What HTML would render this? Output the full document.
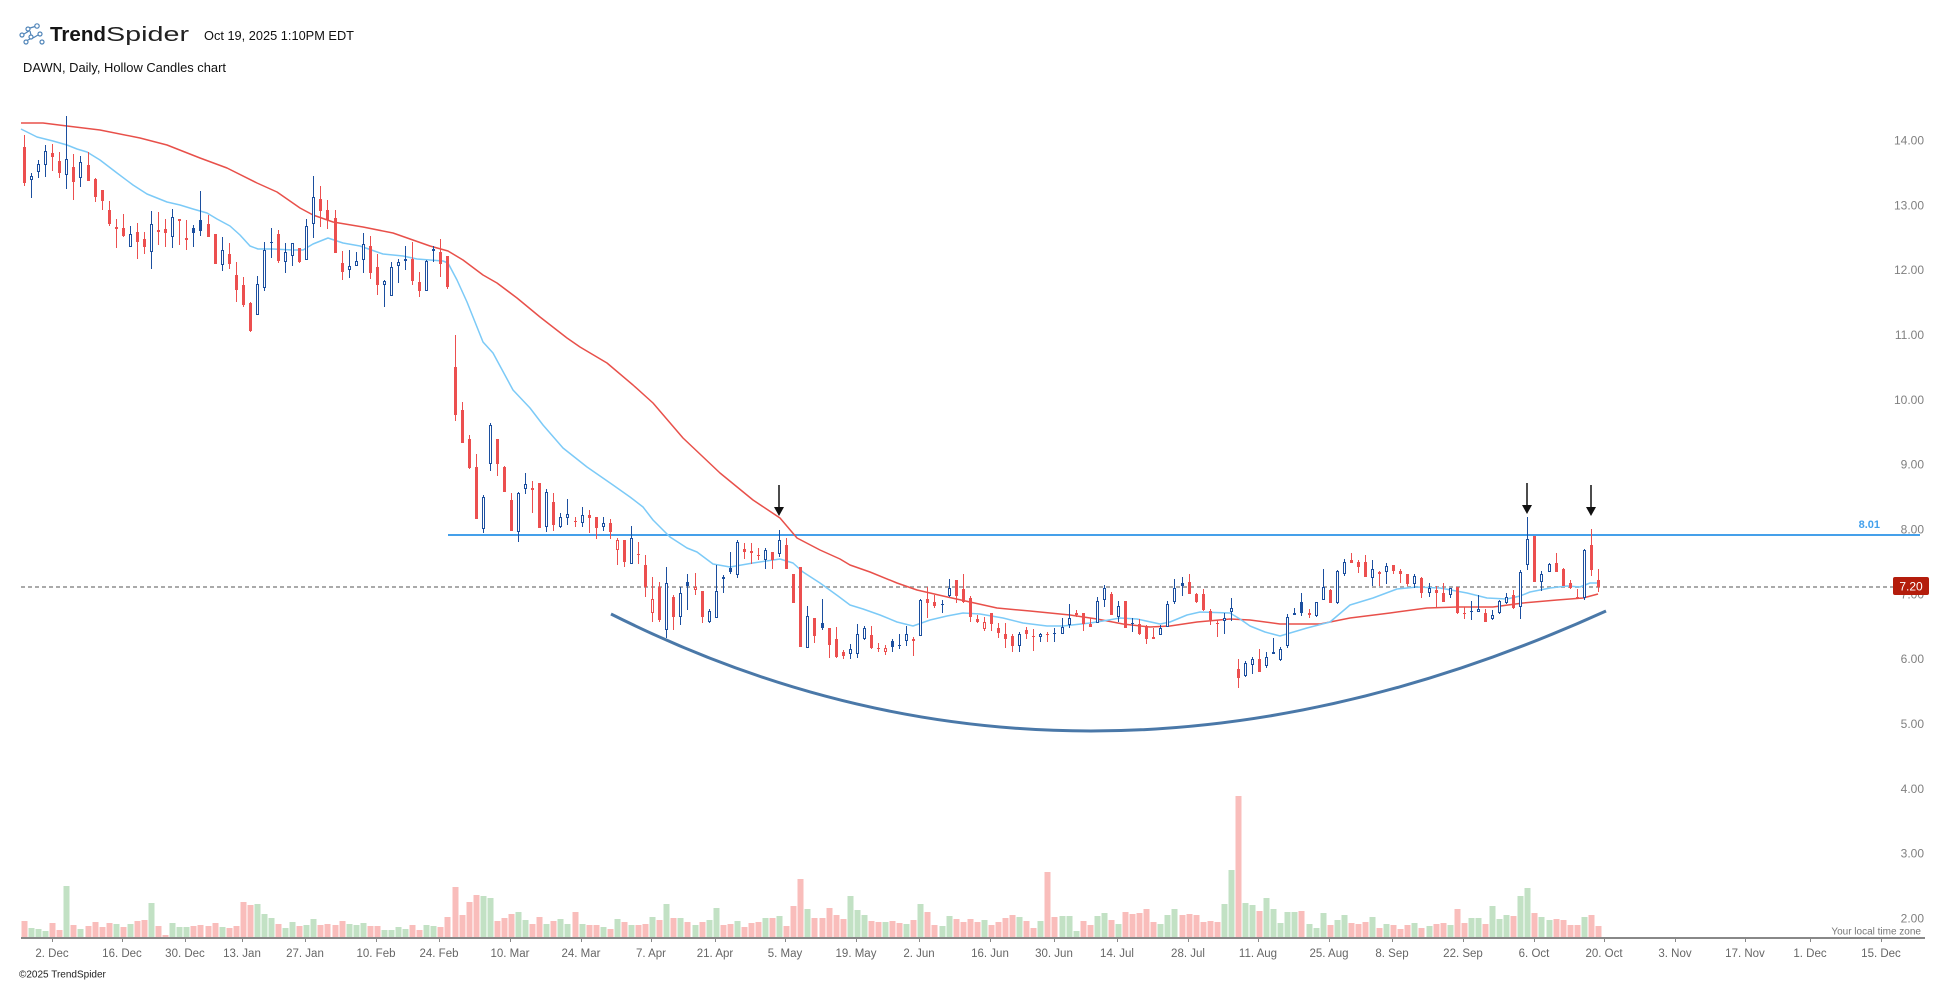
<!DOCTYPE html>
<html><head><meta charset="utf-8"><style>
html,body{margin:0;padding:0;background:#fff;}
svg{display:block;font-family:"Liberation Sans",sans-serif;}
</style></head><body>
<svg id="s" width="1950" height="983" viewBox="0 0 1950 983" xmlns="http://www.w3.org/2000/svg">
<rect width="1950" height="983" fill="#fff"/>
<!-- logo -->
<g fill="none" stroke="#4f84b8" stroke-width="1.2">
<circle cx="22" cy="35" r="2"/><circle cx="28" cy="29" r="2"/><circle cx="37" cy="26" r="2.2"/>
<circle cx="31" cy="37" r="2"/><circle cx="26" cy="42" r="2"/><circle cx="40" cy="34" r="2"/><circle cx="42" cy="42" r="2"/>
<path d="M24 34 L29 31 M30 28 L35 26.5 M30 31 L31 35 M30 39 L27 40.5 M33 38 L38 35"/>
</g>
<text x="50" y="41" font-size="20" font-weight="bold" fill="#151515" textLength="56" lengthAdjust="spacingAndGlyphs">Trend</text>
<text x="106" y="41" font-size="20" fill="#222" textLength="83" lengthAdjust="spacingAndGlyphs">Spider</text>
<text x="204" y="40" font-size="12.5" fill="#111" textLength="150" lengthAdjust="spacingAndGlyphs">Oct 19, 2025 1:10PM EDT</text>
<text x="23" y="72" font-size="12.5" fill="#111" textLength="203" lengthAdjust="spacingAndGlyphs">DAWN, Daily, Hollow Candles chart</text>

<!-- y labels -->
<g font-size="12" fill="#808080" text-anchor="end">
<text x="1924" y="144.5">14.00</text>
<text x="1924" y="209.3">13.00</text>
<text x="1924" y="274.2">12.00</text>
<text x="1924" y="339">11.00</text>
<text x="1924" y="403.8">10.00</text>
<text x="1924" y="468.7">9.00</text>
<text x="1924" y="533.5">8.00</text>
<text x="1924" y="598.3">7.00</text>
<text x="1924" y="663.2">6.00</text>
<text x="1924" y="728">5.00</text>
<text x="1924" y="792.8">4.00</text>
<text x="1924" y="857.7">3.00</text>
<text x="1924" y="922.5">2.00</text>
</g>

<g id="vol"></g>
<!-- dashed last price line -->
<line x1="21" y1="587" x2="1893" y2="587" stroke="#aaaaaa" stroke-width="2" stroke-dasharray="4 3"/>
<!-- 8.01 line -->
<line x1="448" y1="535" x2="1920" y2="535" stroke="#45a0ea" stroke-width="2"/>
<text x="1880" y="528" font-size="11" font-weight="bold" fill="#42a0ec" text-anchor="end">8.01</text>

<g id="ma"></g>
<g id="cd"></g>

<!-- bowl -->
<path d="M611,614 Q1079.5,849.5 1606,611" fill="none" stroke="#4a78a8" stroke-width="3"/>

<!-- arrows -->
<g fill="#111" stroke="#111">
<line x1="779" y1="485" x2="779" y2="507" stroke-width="1.5"/><polygon points="774,507 784,507 779,516" stroke="none"/>
<line x1="1527" y1="483" x2="1527" y2="505" stroke-width="1.5"/><polygon points="1522,505 1532,505 1527,514" stroke="none"/>
<line x1="1591" y1="485" x2="1591" y2="507" stroke-width="1.5"/><polygon points="1586,507 1596,507 1591,516" stroke="none"/>
</g>

<!-- last price label -->
<rect x="1893" y="577" width="36" height="18" rx="2" fill="#b41d0c"/>
<text x="1911" y="590.5" font-size="12" fill="#fff" text-anchor="middle">7.20</text>

<!-- x axis -->
<rect x="21" y="937" width="1904" height="2" fill="#888"/>
<g id="ticks" fill="#888"></g>
<g font-size="11.5" fill="#666" text-anchor="middle">
<text x="52" y="957">2. Dec</text>
<text x="122" y="957">16. Dec</text>
<text x="185" y="957">30. Dec</text>
<text x="242" y="957">13. Jan</text>
<text x="305" y="957">27. Jan</text>
<text x="376" y="957">10. Feb</text>
<text x="439" y="957">24. Feb</text>
<text x="510" y="957">10. Mar</text>
<text x="581" y="957">24. Mar</text>
<text x="651" y="957">7. Apr</text>
<text x="715" y="957">21. Apr</text>
<text x="785" y="957">5. May</text>
<text x="856" y="957">19. May</text>
<text x="919" y="957">2. Jun</text>
<text x="990" y="957">16. Jun</text>
<text x="1054" y="957">30. Jun</text>
<text x="1117" y="957">14. Jul</text>
<text x="1188" y="957">28. Jul</text>
<text x="1258" y="957">11. Aug</text>
<text x="1329" y="957">25. Aug</text>
<text x="1392" y="957">8. Sep</text>
<text x="1463" y="957">22. Sep</text>
<text x="1534" y="957">6. Oct</text>
<text x="1604" y="957">20. Oct</text>
<text x="1675" y="957">3. Nov</text>
<text x="1745" y="957">17. Nov</text>
<text x="1810" y="957">1. Dec</text>
<text x="1881" y="957">15. Dec</text>
</g>
<text x="1921" y="934.5" font-size="10" fill="#777" text-anchor="end">Your local time zone</text>
<text x="19" y="977.5" font-size="10" fill="#222">©2025 TrendSpider</text>
</svg>
<script>
(function(){
var NS="http://www.w3.org/2000/svg";
function el(p,t,a){var e=document.createElementNS(NS,t);for(var k in a)e.setAttribute(k,a[k]);p.appendChild(e);return e;}
var C=[
['R',147,183,135,186],['B',176,180,173,198],['B',164,172,160,178],['B',151,165,145,177],['R',153,157,144,171],
['R',161,173,152,178],['B',159,175,116,189],['R',167,182,154,200],['B',162,178,156,187],['R',165,181,152,181],
['R',179,197,178,202],['R',190,201,190,210],['R',210,224,201,226],['R',227,229,219,248],['R',228,236,214,237],
['B',234,247,226,247],['R',232,242,223,259],['R',239,247,232,254],['B',224,252,211,269],['R',230,232,212,245],
['R',229,233,219,247],['B',217,237,209,248],['R',219,221,219,245],['r',238,240,220,250],['b',228,233,225,247],
['b',220,231,191,236],['R',224,237,215,237],['R',234,264,234,264],['B',250,265,237,271],['R',254,264,243,269],
['R',275,290,262,302],['R',285,305,277,307],['R',303,331,302,332],['B',284,315,276,315],['B',250,288,242,291],
['B',242,243,228,258],['R',234,261,230,263],['B',252,262,243,273],['B',243,256,243,266],['R',248,262,248,263],
['B',226,260,219,260],['B',197,224,176,238],['R',199,211,186,227],['R',210,220,200,229],['R',218,253,210,253],
['R',263,272,251,280],['B',266,270,250,278],['B',261,266,252,266],['B',244,260,233,273],['R',246,273,236,279],
['R',267,285,254,295],['B',281,285,280,307],['B',267,296,262,296],['B',262,266,259,283],['B',259,261,246,270],
['R',259,281,242,285],['R',282,291,272,297],['B',261,291,260,291],['B',249,251,246,262],['R',252,264,239,277],
['R',256,287,256,289],
['R',367,415,335,421],['R',410,443,402,443],['R',439,468,435,469],['R',467,519,454,519],['B',497,529,495,533],
['B',425,464,423,471],['R',439,464,439,476],['R',467,492,466,492],['R',500,531,493,531],['B',493,532,492,542],
['B',484,489,473,494],['R',488,490,481,513],['R',483,528,483,528],['B',492,527,489,532],['R',502,525,493,531],
['B',517,527,513,528],['B',514,518,499,525],['R',521,522,517,527],['B',515,523,507,527],['R',515,518,510,533],
['R',517,528,517,539],['B',523,527,517,531],['R',523,532,519,539],['r',540,550,538,565],['R',540,562,540,567],
['B',538,564,526,564],['R',554,555,542,564],['R',565,587,555,597],['r',599,613,577,622],['R',587,620,582,622],
['B',583,630,567,638],['R',597,617,595,630],['B',593,617,587,625],['b',582,586,574,610],['r',587,590,573,595],
['R',591,617,591,623],['B',611,622,609,623],['B',591,618,565,618],['b',577,579,575,593],['b',568,572,552,574],
['B',542,575,540,578],['R',549,552,543,559],['R',551,553,543,564],['R',555,556,548,560],['B',550,560,548,569],
['R',552,560,552,569],['B',540,554,530,557],['R',545,569,538,569],['R',574,603,574,603],['R',567,647,567,647],
['B',616,648,606,648],['R',618,636,618,643],['b',623,628,599,630],['R',628,645,628,658],['R',639,657,627,658],
['R',652,656,650,659],['B',649,654,644,659],['B',634,654,624,658],['B',628,639,626,640],['R',635,648,626,649],
['R',648,649,643,652],['r',648,652,645,655],['b',641,647,639,652],['B',645,646,634,649],['B',634,641,626,646],
['R',639,641,637,656],['B',600,636,599,636],['R',599,603,587,618],['R',602,606,595,608],['B',604,605,600,613],
['B',588,596,579,597],['R',580,596,580,603],['R',589,602,574,603],['R',598,617,596,622],['R',619,622,615,623],
['r',622,629,617,631],['R',613,624,613,631],['R',628,633,623,638],['R',634,639,623,648],['R',636,646,634,652],
['B',634,646,632,652],['R',630,634,627,639],['R',636,637,629,651],['B',634,637,633,642],['R',634,635,632,642],
['B',633,634,628,642],['B',627,634,618,634],['B',618,625,604,628],['R',613,615,610,617],['R',613,624,613,631],
['R',624,627,618,627],['B',601,623,597,623],['B',588,600,585,607],['R',594,615,592,615],['B',606,617,601,622],
['R',601,628,601,628],['B',623,624,618,632],['R',624,634,619,635],['R',627,639,625,644],['R',637,639,628,639],
['B',628,635,625,635],['B',604,627,601,627],['B',588,602,579,604],['b',583,586,577,596],['R',582,594,574,594],
['R',594,602,593,603],['R',594,610,589,611],['R',611,620,609,625],['R',623,624,620,637],['B',618,621,613,634],
['B',608,612,598,621],['R',669,678,659,688],
['B',663,676,661,677],['B',659,665,657,674],['R',659,672,649,672],['B',657,666,652,668],['b',652,654,638,654],
['B',649,660,647,661],['B',617,646,614,648],['B',613,615,608,615],['b',602,613,593,616],['r',613,615,609,618],
['B',602,616,602,617],['B',587,600,569,600],['R',590,603,589,603],['B',571,603,570,604],['B',562,574,559,576],
['R',560,563,553,563],['R',562,567,560,573],['R',562,577,555,577],['B',569,578,560,586],['R',572,574,571,586],
['B',566,572,563,584],['R',565,571,565,574],['R',571,574,569,583],['R',574,584,574,586],['B',576,584,574,588],
['R',578,593,577,598],['B',588,593,583,597],['R',590,593,586,607],['R',593,602,583,602],['B',588,595,588,598],
['R',587,613,587,614],['R',613,614,607,619],['B',611,612,601,620],['B',609,612,595,612],['R',613,622,609,622],
['B',615,619,610,620],['B',601,613,600,614],['B',597,603,593,604],['R',595,608,590,609],['B',572,607,570,619],
['B',539,565,517,570],['R',536,582,536,582],['B',574,582,571,591],['B',564,572,563,572],['R',563,572,553,572],
['R',569,586,568,586],['R',583,588,580,589],['R',597,598,589,598],['B',550,598,549,600],['R',545,570,529,576],
['R',580,587,569,592]
];
var V="R16 G9 G8 G6 R14 R7 G51 R12 G8 R11 R15 R10 R14 G13 R10 G13 R16 R17 G34 R11 R2 G14 G10 G10 R11 R12 R11 R14 G10 R9 R11 R35 R32 G33 G23 G19 R13 G9 G15 R11 G12 G18 R12 R13 R12 R16 G13 G12 G14 R11 R11 G7 G7 G10 G8 R12 R7 G12 G11 R10 R20 R50 R22 R35 R42 G41 G39 R16 R19 R23 G25 G17 R13 R20 G13 R16 G18 G13 R25 G13 R12 R12 G10 R8 G18 R15 G12 R12 R13 G20 R17 G33 R19 G19 R15 G12 R15 G17 G29 R12 R13 G16 R10 R14 R15 G19 R19 G21 R11 R31 R58 G28 R19 R19 R29 R22 R18 G41 G27 G22 R16 R15 G15 R16 R14 G13 R17 G33 R25 R12 G11 G21 R18 R15 R18 R15 G17 R12 R15 R19 R22 G20 R16 R9 G16 R65 R20 G21 G21 G6 R16 R12 G21 G24 R17 G13 R25 R23 R24 R28 R15 G13 G22 G28 R22 R23 R22 R15 R16 R15 G33 G67 R141 G34 G32 R26 G39 G28 G14 G25 G25 R26 G13 G9 G24 R12 G17 G22 R14 R13 R15 G20 R9 G13 R12 R8 R12 G14 R9 G11 R13 R14 G12 R28 R14 G19 G19 R13 G31 G18 G22 R21 G41 G49 R24 G20 G17 R18 R17 R12 R12 G20 R22 R11".split(" ");
function X(i){return 24+i*7.058;}
var vg=document.getElementById("vol");
V.forEach(function(v,i){var h=parseInt(v.slice(1));var c=v[0]=="R"?"#f9bdbb":"#c2e1c4";
 el(vg,"rect",{x:(Math.round(X(i))-2.5).toFixed(1),y:937-h,width:6,height:h,fill:c});});
var cg=document.getElementById("cd");
C.forEach(function(d,i){var x=Math.round(X(i));var t=d[0];var col=(t=="R"||t=="r")?"#ec4f4f":"#1c4f9f";
 var bt=d[1],bb=d[2],wh=d[3],wl=d[4];if(bb-bt<1)bb=bt+1;
 var hollow=(t=="B"||t=="r")&&(bb-bt>=3);
 if(hollow){
  if(bt>wh)el(cg,"rect",{x:x,y:wh,width:1,height:bt-wh,fill:col});
  if(wl>bb)el(cg,"rect",{x:x,y:bb,width:1,height:wl-bb,fill:col});
  el(cg,"rect",{x:x-0.5,y:bt+0.5,width:2,height:bb-bt-1,fill:"#fff",stroke:col,"stroke-width":1});
 }else{
  el(cg,"rect",{x:x,y:wh,width:1,height:Math.max(1,wl-wh),fill:col});
  el(cg,"rect",{x:x-1,y:bt,width:3,height:bb-bt,fill:col});
 }
});
var red=[[21,123],[43,123],[67,126],[100,130],[140,138],[167,145],[200,158],[227,168],[257,183],[277,192],[300,208],[313,215],[333,222],[363,227],[393,233],[430,246],[448,251],[463,260],[483,275],[497,283],[517,298],[540,317],[567,338],[580,347],[607,363],[633,385],[653,403],[683,438],[720,473],[753,500],[780,518],[797,538],[820,550],[840,559],[850,565],[870,572],[897,583],[917,590],[943,596],[970,602],[997,608],[1030,611],[1070,615],[1097,619],[1123,624],[1150,627],[1170,626],[1197,622],[1230,619],[1250,620],[1280,624],[1320,624],[1350,618],[1390,613],[1427,608],[1457,607],[1493,607],[1523,603],[1557,600],[1583,598],[1598,594]];
var blu=[[21,129],[37,137],[53,141],[67,145],[77,149],[87,152],[100,160],[117,173],[133,185],[147,194],[167,202],[180,205],[193,209],[207,213],[217,219],[230,226],[240,235],[250,246],[258,249],[273,249],[293,250],[303,250],[313,244],[328,238],[343,243],[360,246],[383,254],[403,256],[417,259],[430,260],[443,261],[448,263],[457,280],[467,302],[475,322],[483,342],[493,353],[513,390],[530,408],[543,425],[563,448],[587,467],[613,485],[630,497],[643,507],[653,520],[670,537],[687,548],[697,552],[713,564],[730,567],[753,563],[780,559],[793,563],[803,572],[820,583],[838,596],[850,605],[863,609],[880,615],[897,622],[913,626],[930,620],[947,616],[963,613],[980,614],[1003,618],[1023,623],[1047,626],[1063,626],[1090,623],[1103,621],[1120,618],[1137,619],[1160,624],[1170,622],[1187,615],[1200,612],[1230,613],[1240,619],[1250,626],[1265,632],[1280,636],[1307,628],[1330,622],[1350,605],[1373,598],[1397,589],[1417,587],[1440,588],[1467,593],[1487,598],[1507,599],[1520,596],[1530,592],[1550,588],[1567,586],[1580,587],[1590,583],[1598,583]];
var mg=document.getElementById("ma");
el(mg,"polyline",{points:red.map(function(p){return p.join(",");}).join(" "),fill:"none",stroke:"#e8504a","stroke-width":1.5,"stroke-linejoin":"round"});
el(mg,"polyline",{points:blu.map(function(p){return p.join(",");}).join(" "),fill:"none",stroke:"#7ccaf7","stroke-width":1.5,"stroke-linejoin":"round"});
var tg=document.getElementById("ticks");
[52,122,185,242,305,376,439,510,581,651,715,785,856,919,990,1054,1117,1188,1258,1329,1392,1463,1534,1604,1675,1745,1810,1881].forEach(function(x){el(tg,"rect",{x:x,y:937,width:1,height:5});});
})();
</script>
</body></html>
